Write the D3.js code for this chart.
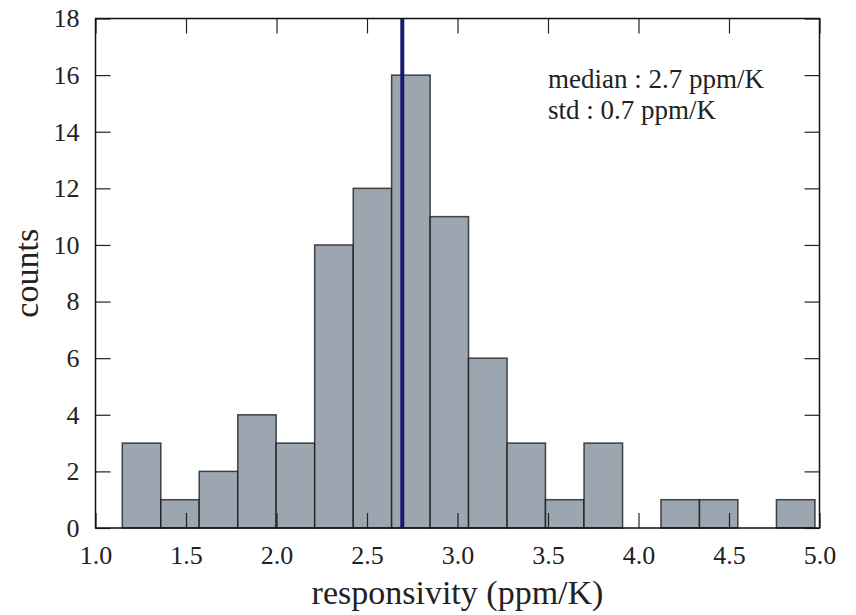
<!DOCTYPE html>
<html>
<head>
<meta charset="utf-8">
<script src="https://cdn.jsdelivr.net/npm/d3@7/dist/d3.min.js"></script>
<style>
	body { margin: 0; background: #fff; }
	text { font-family: "Liberation Serif", "DejaVu Serif", serif; fill: #222; }
</style>
</head>
<body>
<div id="chartDiv"></div>
<script>
;(function() {

	// histogram bins
	var binEdges = [1.148, 1.361, 1.573, 1.786, 1.998, 2.211, 2.424, 2.636, 2.849, 3.061,
		3.274, 3.486, 3.699, 3.912, 4.124, 4.337, 4.549, 4.762, 4.975];
	var counts = [3, 1, 2, 4, 3, 10, 12, 16, 11, 6, 3, 1, 3, 0, 1, 1, 0, 1];
	var medianValue = 2.695;
	var xTicks = [1.0, 1.5, 2.0, 2.5, 3.0, 3.5, 4.0, 4.5, 5.0];
	var yTicks = [0, 2, 4, 6, 8, 10, 12, 14, 16, 18];
	var statLines = ["median : 2.7 ppm/K", "std : 0.7 ppm/K"];
	var xAxisLabelHeader = "responsivity (ppm/K)";
	var yAxisLabelHeader = "counts";

	var width = 856;
	var height = 615;
	var margin = { top: 18.5, right: 36.5, bottom: 87, left: 95.5 };
	var chartWidth = width - margin.left - margin.right;
	var chartHeight = height - margin.top - margin.bottom;
	var tickLen = 15;

	var bins = counts.map(function(c, i) {
		return { x0: binEdges[i], x1: binEdges[i + 1], count: c };
	});

	var svg = d3.select("#chartDiv").append("svg")
		.attr("width", width)
		.attr("height", height);

	var plot = svg.append("g")
		.attr("transform", "translate(" + margin.left + "," + margin.top + ")");

	var xScale = d3.scaleLinear().domain([1.0, 5.0]).range([0, chartWidth]);
	var yScale = d3.scaleLinear().domain([0, 18]).range([chartHeight, 0]);

	// bars
	plot.selectAll(".bar")
		.data(bins.filter(function(d) { return d.count > 0; }))
		.enter().append("rect")
		.attr("class", "bar")
		.attr("x", function(d) { return xScale(d.x0); })
		.attr("y", function(d) { return yScale(d.count); })
		.attr("width", function(d) { return xScale(d.x1) - xScale(d.x0); })
		.attr("height", function(d) { return yScale(0) - yScale(d.count); })
		.style("fill", "#9ca6b0")
		.style("stroke", "#111")
		.style("stroke-opacity", 0.75)
		.style("stroke-width", 1.5);

	// median line
	plot.append("line")
		.attr("x1", xScale(medianValue))
		.attr("x2", xScale(medianValue))
		.attr("y1", 0)
		.attr("y2", chartHeight)
		.style("stroke", "#191970")
		.style("stroke-width", 4);

	// axes, ticks pointing inward on all four sides
	var xBottom = d3.axisBottom(xScale).tickValues(xTicks).tickSizeInner(-tickLen).tickSizeOuter(0)
		.tickPadding(tickLen + 3).tickFormat(d3.format(".1f"));
	var xTop = d3.axisTop(xScale).tickValues(xTicks).tickSizeInner(-tickLen).tickSizeOuter(0).tickFormat("");
	var yLeft = d3.axisLeft(yScale).tickValues(yTicks).tickSizeInner(-tickLen).tickSizeOuter(0)
		.tickPadding(tickLen + 1);
	var yRight = d3.axisRight(yScale).tickValues(yTicks).tickSizeInner(-tickLen).tickSizeOuter(0).tickFormat("");

	var gxb = plot.append("g").attr("transform", "translate(0," + chartHeight + ")").call(xBottom);
	var gxt = plot.append("g").call(xTop);
	var gyl = plot.append("g").call(yLeft);
	var gyr = plot.append("g").attr("transform", "translate(" + chartWidth + ",0)").call(yRight);

	[gxb, gxt, gyl, gyr].forEach(function(g) {
		g.select(".domain").remove();
		g.selectAll(".tick line").style("stroke", "#222").style("stroke-width", 1.2);
		g.selectAll(".tick text")
			.style("font-family", "'Liberation Serif', serif")
			.style("font-size", "26px")
			.style("fill", "#222");
	});
	gxb.selectAll(".tick text").attr("dy", "0.71em");

	// frame
	plot.append("rect")
		.attr("width", chartWidth)
		.attr("height", chartHeight)
		.style("fill", "none")
		.style("stroke", "#111")
		.style("stroke-width", 1.5);

	// stats text
	plot.selectAll(".stat")
		.data(statLines)
		.enter().append("text")
		.attr("class", "stat")
		.attr("x", 548 - margin.left)
		.attr("y", function(d, i) { return 88 - margin.top + i * 31; })
		.style("font-size", "27px")
		.text(function(d) { return d; });

	// axis labels
	svg.append("text")
		.attr("text-anchor", "middle")
		.attr("x", margin.left + chartWidth / 2)
		.attr("y", 604)
		.style("font-size", "34px")
		.text(xAxisLabelHeader);

	svg.append("text")
		.attr("text-anchor", "middle")
		.attr("transform", "translate(38," + (margin.top + chartHeight / 2) + ") rotate(-90)")
		.style("font-size", "34px")
		.text(yAxisLabelHeader);

})();
</script>
</body>
</html>
